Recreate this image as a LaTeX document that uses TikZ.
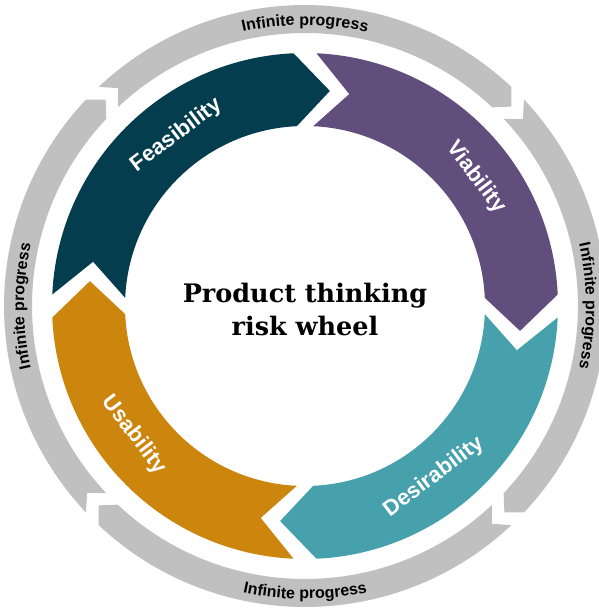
\documentclass[tikz,border=0pt]{standalone}
\usepackage{fontspec}
\setmainfont{Liberation Sans}
\newfontfamily\slabfont{DejaVu Serif}
\usepackage{tikz}
\usetikzlibrary{decorations.text, positioning}
\definecolor{feascol}{HTML}{043E4E}
\definecolor{viabcol}{HTML}{624E7D}
\definecolor{desircol}{HTML}{47A1AC}
\definecolor{usabcol}{HTML}{CC860D}
\definecolor{ringcol}{HTML}{C0C0C0}
\tikzset{x=1pt, y=1pt,
  seglabel/.style={text=white, font=\fontsize{22}{26}\selectfont\bfseries},
  ringtext/.style={decorate, decoration={text along path, text align=center,
    text={|\fontsize{16}{18}\selectfont\bfseries|#1}}}
}
% colour, from angle, to angle, inner radius, outer radius, tip depth
\newcommand{\chevseg}[6]{%
  \pgfmathsetmacro\rmid{(#4+#5)/2}
  \pgfmathsetmacro\tipang{#3-#6}
  \pgfmathsetmacro\notchang{#2-#6}
  \fill[#1] (#2:#5) arc[start angle=#2, end angle=#3, radius=#5] -- (\tipang:\rmid)
    -- (#3:#4) arc[start angle=#3, end angle=#2, radius=#4] -- (\notchang:\rmid) -- cycle;}

\begin{document}
\begin{tikzpicture}
\useasboundingbox (-305,-302) rectangle (294,306);

\foreach \a/\b in {133.3/46.7, 43.3/-43.3, -46.7/-133.3, 223.3/136.7}
  \chevseg{ringcol}{\a}{\b}{273}{301}{2.7};

\foreach \c/\a/\b in {feascol/177.4/92.6, viabcol/87.4/2.6, desircol/-2.6/-87.4, usabcol/-92.6/-177.4}
  \chevseg{\c}{\a}{\b}{180}{253}{9.2};

\path[ringtext=Infinite progress] (135:281) arc[start angle=135, end angle=45, radius=281];
\path[ringtext=Infinite progress] (45:281) arc[start angle=45, end angle=-45, radius=281];
\path[ringtext=Infinite progress] (-135:293) arc[start angle=-135, end angle=-45, radius=293];
\path[ringtext=Infinite progress] (225:281) arc[start angle=225, end angle=135, radius=281];

\node[seglabel, rotate=37] (feas) at (127:214) {Feasibility};
\node[seglabel, rotate=-53] (viab) at (37:214) {Viability};
\node[seglabel, rotate=37] (desir) at (-53:214) {Desirability};
\node[seglabel, rotate=-53] (usab) at (217:214) {Usability};

\node[font=\slabfont\bfseries\fontsize{25.5}{33}\selectfont, align=center] (title) at (0,-3)
  {Product thinking\\risk wheel};
\end{tikzpicture}
\end{document}
